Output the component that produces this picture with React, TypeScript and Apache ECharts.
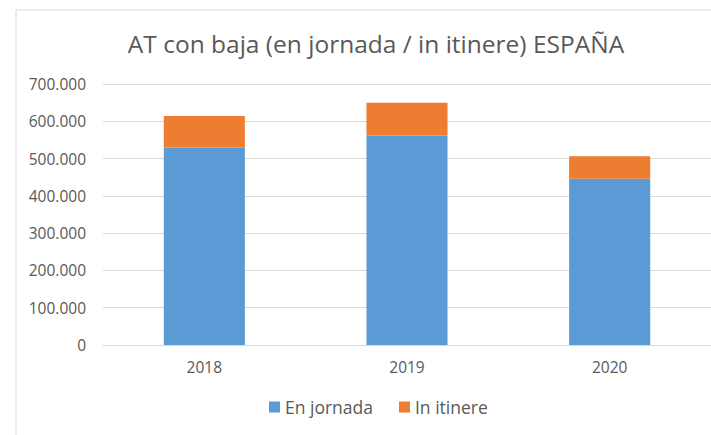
import React, { useEffect, useRef } from "react";
import * as echarts from "echarts";

const years = ["2018", "2019", "2020"];
const enJornada = [530000, 562000, 446000];
const inItinere = [84000, 88000, 60000];
const titleText = "AT con baja (en jornada / in itinere) ESPAÑA";

const FONT = "'Open Sans', sans-serif";

function fmt(v: number): string {
  return String(Math.round(v)).replace(/\B(?=(\d{3})+(?!\d))/g, ".");
}

export default function App() {
  const ref = useRef<HTMLDivElement>(null);
  useEffect(() => {
    if (!ref.current) return;
    const chart = echarts.init(ref.current, null, { renderer: "svg" });
    chart.setOption({
      animation: false,
      backgroundColor: "#ffffff",
      textStyle: { fontFamily: FONT },
      title: {
        text: titleText,
        left: 371,
        top: 26,
        textAlign: "center",
        textStyle: { fontFamily: FONT, fontSize: 24.5, fontWeight: "normal", color: "#595959" },
      },
      graphic: [
        { type: "line", shape: { x1: 16, y1: 10, x2: 16, y2: 435 }, style: { stroke: "#d9d9d9", lineWidth: 1 } },
        { type: "line", shape: { x1: 16, y1: 10, x2: 711, y2: 10 }, style: { stroke: "#d9d9d9", lineWidth: 1 } },
      ],
      legend: {
        bottom: 14,
        left: 264,
        itemWidth: 11,
        itemHeight: 11,
        itemGap: 26,
        icon: "rect",
        textStyle: { fontFamily: FONT, fontSize: 17.5, color: "#595959" },
        data: ["En jornada", "In itinere"],
      },
      grid: { left: 103, right: 0, top: 84, bottom: 90 },
      xAxis: {
        type: "category",
        data: years,
        axisLine: { lineStyle: { color: "#d9d9d9" } },
        axisTick: { show: false },
        axisLabel: { color: "#595959", fontSize: 15.5, margin: 14, fontFamily: FONT },
      },
      yAxis: {
        type: "value",
        min: 0,
        max: 700000,
        interval: 100000,
        axisLine: { show: false },
        axisTick: { show: false },
        splitLine: { lineStyle: { color: "#d9d9d9", width: 1 } },
        axisLabel: { color: "#595959", fontSize: 15.5, margin: 17, fontFamily: FONT, formatter: (v: number) => fmt(v) },
      },
      series: [
        {
          name: "En jornada",
          type: "bar",
          stack: "total",
          data: enJornada,
          barCategoryGap: "60%",
          itemStyle: { color: "#5B9BD5" },
        },
        {
          name: "In itinere",
          type: "bar",
          stack: "total",
          data: inItinere,
          barCategoryGap: "60%",
          itemStyle: { color: "#ED7D31" },
        },
      ],
    });
    return () => chart.dispose();
  }, []);
  return <div ref={ref} style={{ width: 711, height: 435, position: "absolute", left: 0, top: 0 }} />;
}
